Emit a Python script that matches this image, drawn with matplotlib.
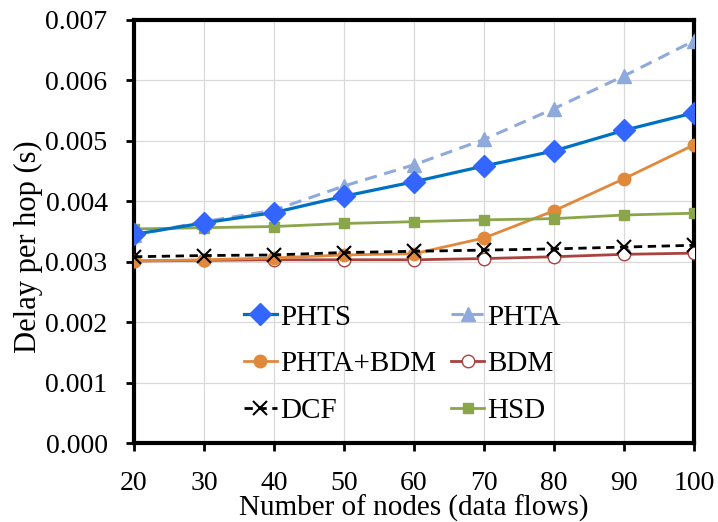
import matplotlib
matplotlib.use("Agg")
import matplotlib.pyplot as plt
from matplotlib.ticker import FormatStrFormatter

plt.rcParams['font.family'] = ['Liberation Serif', 'DejaVu Serif']
plt.rcParams['mathtext.fontset'] = 'stix'

nodes = [20, 30, 40, 50, 60, 70, 80, 90, 100]
phts = [0.00345, 0.00364, 0.00381, 0.00408, 0.00432, 0.00458, 0.00483, 0.00517, 0.00546]
phta = [0.00344, 0.00366, 0.00385, 0.00425, 0.00460, 0.00502, 0.00553, 0.00607, 0.00665]
phta_bdm = [0.00301, 0.00303, 0.00306, 0.00311, 0.00313, 0.00339, 0.00384, 0.00437, 0.00493]
bdm = [0.00301, 0.00302, 0.00303, 0.00303, 0.00303, 0.00305, 0.00308, 0.00312, 0.00314]
dcf = [0.00308, 0.00310, 0.00311, 0.00315, 0.00317, 0.00319, 0.00321, 0.00324, 0.00327]
hsd = [0.00354, 0.00356, 0.00358, 0.00363, 0.00366, 0.00369, 0.00371, 0.00377, 0.00380]

fig = plt.figure(figsize=(7.18, 5.22), dpi=100)
ax = fig.add_axes([0.1866, 0.1513, 0.780, 0.811])

h_phts, = ax.plot(nodes, phts, color='#0070C0', lw=2.3, marker='D', ms=11,
                  mfc='#3366FF', mec='#3366FF', label='PHTS', zorder=6)
h_phta, = ax.plot(nodes, phta, color='#8EA9DB', lw=2.2, ls=(0, (4, 2.5)), marker='^', ms=10,
                  mfc='#8EA9DB', mec='#8EA9DB', label='PHTA', zorder=5)
h_pb, = ax.plot(nodes, phta_bdm, color='#E0893C', lw=2.0, marker='o', ms=9,
                mfc='#E0893C', mec='#E0893C', label='PHTA+BDM', zorder=4)
h_bdm, = ax.plot(nodes, bdm, color='#A8433F', lw=2.0, marker='o', ms=9,
                 mfc='white', mec='#A8433F', mew=1.0, label='BDM', zorder=3)
h_dcf, = ax.plot(nodes, dcf, color='black', lw=2.0, ls=(0, (3, 2)), marker='x', ms=10,
                 mew=1.5, label='DCF', zorder=7)
h_hsd, = ax.plot(nodes, hsd, color='#8BA64A', lw=2.0, marker='s', ms=6.5,
                 mfc='#8BA64A', mec='#8BA64A', label='HSD', zorder=4)

ax.set_xlim(20, 100)
ax.set_ylim(0, 0.007)
ax.set_xticks(nodes)
ax.set_yticks([0.000, 0.001, 0.002, 0.003, 0.004, 0.005, 0.006, 0.007])
ax.yaxis.set_major_formatter(FormatStrFormatter('%.3f'))
ax.grid(True, color='#D9D9D9', lw=0.9)
ax.set_axisbelow(True)

for s in ax.spines.values():
    s.set_linewidth(3)
    s.set_color('black')
ax.tick_params(axis='both', labelsize=20, width=2, length=6, direction='out')
ax.tick_params(axis='x', pad=14)
ax.tick_params(axis='y', pad=13)

ax.set_xlabel('Number of nodes (data flows)', fontsize=21, labelpad=-1)
ax.set_ylabel('Delay per hop (s)', fontsize=22)
ax.yaxis.set_label_coords(-0.162, 0.463)

# row-wise ordering for a two-column legend
handles = [h_phts, h_pb, h_dcf, h_phta, h_bdm, h_hsd]
ax.legend(handles=handles, labels=[h.get_label() for h in handles],
          loc='upper left', bbox_to_anchor=(0.149, 0.39), ncol=2,
          frameon=False, fontsize=21, handlelength=1.15, handletextpad=0.1,
          columnspacing=0.5, labelspacing=0.7, borderpad=0.4)

fig.savefig('out.png', dpi=100)
